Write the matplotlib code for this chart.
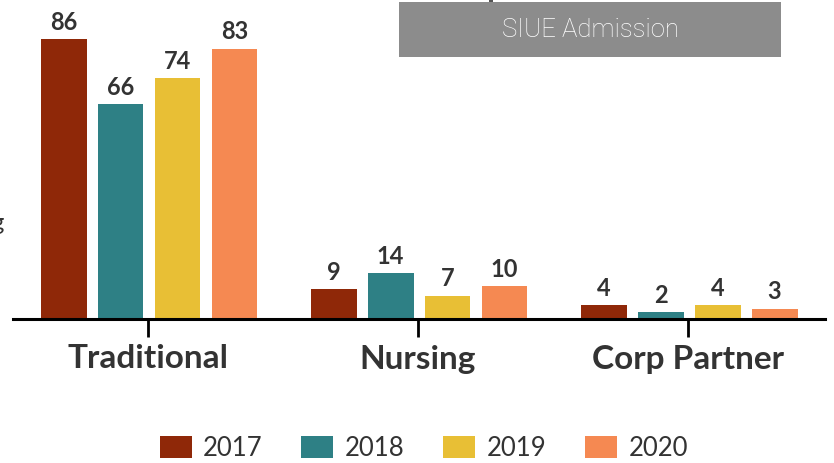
import matplotlib
matplotlib.use("Agg")
import matplotlib.pyplot as plt
from matplotlib.patches import Rectangle, Patch
import numpy as np

# ---- data ----
categories = ["Traditional", "Nursing", "Corp Partner"]
years = ["2017", "2018", "2019", "2020"]
values_2017 = [86, 9, 4]
values_2018 = [66, 14, 2]
values_2019 = [74, 7, 4]
values_2020 = [83, 10, 3]
series = [values_2017, values_2018, values_2019, values_2020]
colors = ["#8f2808", "#2e8085", "#e8bf35", "#f58952"]

W, H = 834, 464
fig = plt.figure(figsize=(W / 100, H / 100), dpi=100)
fig.patch.set_facecolor("white")

ax = fig.add_axes([13 / W, (H - 319.5) / H, 812 / W, 319.5 / H])
ax.set_xlim(-0.5, 2.507)
ax.set_ylim(0, 98.3)

x = np.arange(len(categories))
bar_w = 0.170
step = 0.211
shift = 1 / 270

for i, (vals, col) in enumerate(zip(series, colors)):
    pos = x + (i - 1.5) * step + shift
    ax.bar(pos, vals, width=bar_w, color=col, zorder=2)
    for px, v in zip(pos, vals):
        ax.annotate(str(v), (px, v), xytext=(0, 7.5), textcoords="offset points",
                    ha="center", va="baseline", fontsize=17, fontweight="bold",
                    family="Lato", color="#333333")

for s in ["top", "left", "right"]:
    ax.spines[s].set_visible(False)
ax.spines["bottom"].set_linewidth(2.2)
ax.spines["bottom"].set_color("black")
ax.set_yticks([])
ax.set_xticks(x)
ax.set_xticklabels(categories, fontsize=24, fontweight="bold", family="Lato",
                   color="#333333")
ax.tick_params(axis="x", length=13, width=2, color="black", pad=5)

# legend
handles = [Patch(facecolor=c, edgecolor="none") for c in colors]
fig.legend(handles, years, loc="center", bbox_to_anchor=(424 / W, (H - 449) / H),
           ncol=4, frameon=False, prop={"family": "Lato", "size": 18.5},
           labelcolor="#333333", handlelength=1.25, handleheight=0.95,
           handletextpad=0.45, columnspacing=1.5, borderpad=0.0)

# header box
fig.patches.append(Rectangle((399 / W, (H - 58) / H), 382 / W, 55 / H,
                             transform=fig.transFigure, facecolor="#8c8c8c",
                             edgecolor="none"))
fig.text(590 / W, (H - 30) / H, "SIUE Admission", ha="center", va="center",
         fontsize=18.5, family="Roboto", fontweight="light", color="white")
fig.patches.append(Rectangle((489 / W, (H - 3) / H), 4 / W, 3 / H,
                             transform=fig.transFigure, facecolor="#555555",
                             edgecolor="none"))

# side label (runs off the left edge)
fig.text(4 / W, (H - 223) / H, "g", ha="right", va="center", fontsize=17,
         family="Lato", color="#333333")

fig.savefig("out.png", dpi=100)
